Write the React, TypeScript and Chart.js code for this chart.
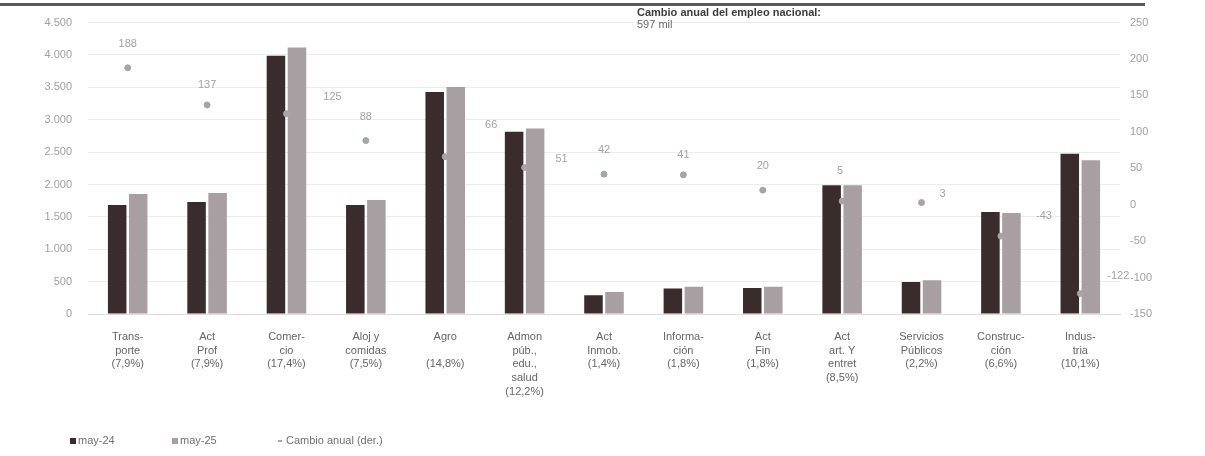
import React, { useEffect, useRef } from "react";
import { Chart, registerables } from "chart.js";

Chart.register(...registerables);

const categories: string[][] = [
  ["Trans-", "porte", "(7,9%)"],
  ["Act", "Prof", "(7,9%)"],
  ["Comer-", "cio", "(17,4%)"],
  ["Aloj y", "comidas", "(7,5%)"],
  ["Agro", "", "(14,8%)"],
  ["Admon", "púb.,", "edu.,", "salud", "(12,2%)"],
  ["Act", "Inmob.", "(1,4%)"],
  ["Informa-", "ción", "(1,8%)"],
  ["Act", "Fin", "(1,8%)"],
  ["Act", "art. Y", "entret", "(8,5%)"],
  ["Servicios", "Públicos", "(2,2%)"],
  ["Construc-", "ción", "(6,6%)"],
  ["Indus-", "tria", "(10,1%)"],
];

const may24: number[] = [1685, 1730, 3990, 1685, 3430, 2815, 290, 395, 400, 1990, 495, 1575, 2475];
const may25: number[] = [1855, 1870, 4115, 1760, 3505, 2865, 340, 420, 420, 1990, 520, 1560, 2375];
const cambioAnual: number[] = [188, 137, 125, 88, 66, 51, 42, 41, 20, 5, 3, -43, -122];

const leftTicks: number[] = [0, 500, 1000, 1500, 2000, 2500, 3000, 3500, 4000, 4500];
const rightTicks: number[] = [-150, -100, -50, 0, 50, 100, 150, 200, 250];

const seriesNames: string[] = ["may-24", "may-25", "Cambio anual (der.)"];
const noteTitle = "Cambio anual del empleo nacional:";
const noteValue = "597 mil";

// label offsets (pixels, relative to each point)
const labelOffsets: [number, number][] = [
  [0, -24], [0, -20], [46, -17], [0, -24], [46, -32], [37, -9], [0, -24],
  [0, -20], [0, -24], [-2, -30], [21, -9], [43, -20], [38, -18],
];

const DARK = "#3a2b2d";
const LIGHT = "#a89fa2";
const POINT = "#aaa3a5";
const FONT = "'Liberation Sans', Arial, sans-serif";

const fmt = (v: number) => String(v).replace(/\B(?=(\d{3})+(?!\d))/g, ".");

export default function App() {
  const ref = useRef<HTMLCanvasElement | null>(null);

  useEffect(() => {
    if (!ref.current) return;

    const decor = {
      id: "decor",
      afterDatasetsDraw(chart: any) {
        const ctx = chart.ctx;
        const meta = chart.getDatasetMeta(2);
        ctx.save();
        ctx.font = `11px ${FONT}`;
        ctx.fillStyle = "#a3a3a3";
        ctx.textAlign = "center";
        ctx.textBaseline = "middle";
        meta.data.forEach((el: any, i: number) => {
          const [dx, dy] = labelOffsets[i];
          const v = cambioAnual[i];
          ctx.fillText(String(v), el.x + dx, el.y + dy);
        });
        ctx.restore();
      },
      afterDraw(chart: any) {
        const ctx = chart.ctx;
        const area = chart.chartArea;
        ctx.save();
        // top rule
        ctx.fillStyle = "#5a5a5a";
        ctx.fillRect(0, 3, 1145, 3);
        // note
        ctx.textAlign = "left";
        ctx.textBaseline = "middle";
        ctx.fillStyle = "#3c3c3c";
        ctx.font = `bold 11px ${FONT}`;
        ctx.fillText(noteTitle, 637, 13);
        ctx.font = `11px ${FONT}`;
        ctx.fillStyle = "#6a6a6a";
        ctx.fillText(noteValue, 637, 25);
        // legend
        const ly = 441;
        ctx.font = `11px ${FONT}`;
        ctx.fillStyle = DARK;
        ctx.fillRect(area.left - 18, ly - 3, 6, 6);
        ctx.fillStyle = "#707070";
        ctx.fillText(seriesNames[0], area.left - 10, ly);
        ctx.fillStyle = LIGHT;
        ctx.fillRect(area.left + 84, ly - 3, 6, 6);
        ctx.fillStyle = "#707070";
        ctx.fillText(seriesNames[1], area.left + 92, ly);
        ctx.fillStyle = POINT;
        ctx.fillRect(area.left + 190, ly - 1, 4, 2);
        ctx.fillStyle = "#707070";
        ctx.fillText(seriesNames[2], area.left + 198, ly);
        ctx.restore();
      },
    };

    const chart = new Chart(ref.current, {
      type: "bar",
      data: {
        labels: categories,
        datasets: [
          {
            label: seriesNames[0],
            data: may24,
            backgroundColor: DARK,
            yAxisID: "y",
            order: 1,
            barPercentage: 0.88,
            categoryPercentage: 0.53,
          },
          {
            label: seriesNames[1],
            data: may25,
            backgroundColor: LIGHT,
            yAxisID: "y",
            order: 1,
            barPercentage: 0.88,
            categoryPercentage: 0.53,
          },
          {
            type: "line",
            label: seriesNames[2],
            data: cambioAnual,
            yAxisID: "y1",
            showLine: false,
            pointStyle: "circle",
            pointRadius: 3,
            pointBackgroundColor: POINT,
            pointBorderColor: POINT,
            borderColor: POINT,
            backgroundColor: POINT,
            order: 0,
          } as any,
        ],
      },
      options: {
        animation: false,
        responsive: true,
        maintainAspectRatio: false,
        layout: { padding: { top: 21, bottom: 0, left: 0, right: 0 } },
        plugins: {
          legend: { display: false },
          tooltip: { enabled: false },
        },
        scales: {
          x: {
            grid: { display: false, drawTicks: false },
            border: { display: true, color: "#dcdcdc" },
            ticks: {
              autoSkip: false,
              maxRotation: 0,
              minRotation: 0,
              padding: 16,
              color: "#666666",
              font: { family: FONT, size: 11, lineHeight: 1.25 },
            },
            afterFit(scale: any) {
              scale.height = 142;
            },
          },
          y: {
            position: "left",
            min: 0,
            max: 4500,
            afterBuildTicks(scale: any) {
              scale.ticks = leftTicks.map((v) => ({ value: v }));
            },
            grid: { color: "#ededed", drawTicks: false },
            border: { display: false },
            ticks: {
              padding: 16,
              color: "#a0a0a0",
              font: { family: FONT, size: 11 },
              callback: (v: any) => fmt(Number(v)),
            },
            afterFit(scale: any) {
              scale.width = 88;
            },
          },
          y1: {
            position: "right",
            min: -150,
            max: 250,
            afterBuildTicks(scale: any) {
              scale.ticks = rightTicks.map((v) => ({ value: v }));
            },
            grid: { display: false, drawTicks: false },
            border: { display: false },
            ticks: {
              padding: 10,
              color: "#a0a0a0",
              font: { family: FONT, size: 11 },
              callback: (v: any) => String(v),
            },
            afterFit(scale: any) {
              scale.width = 85;
            },
          },
        },
      },
      plugins: [decor],
    });

    return () => chart.destroy();
  }, []);

  return (
    <div style={{ position: "fixed", left: 0, top: 0, width: 1205, height: 456, background: "#ffffff" }}>
      <canvas ref={ref} />
    </div>
  );
}
